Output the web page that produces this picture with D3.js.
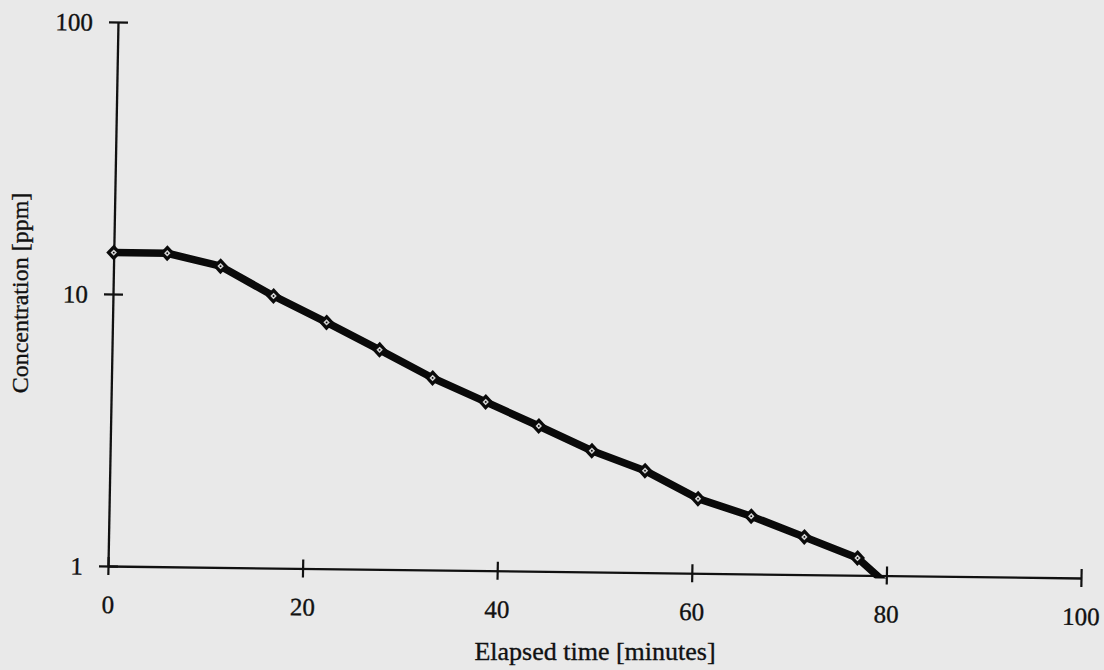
<!DOCTYPE html>
<html>
<head>
<meta charset="utf-8">
<script src="https://cdn.jsdelivr.net/npm/d3@7/dist/d3.min.js"></script>
<style>
  body { margin: 0; background: #e9e9e9; }
  text { font-family: 'Liberation Serif', 'Times New Roman', serif; fill: #111; stroke: #111; stroke-width: 0.35px; }
</style>
</head>
<body>
<div id="chart"></div>
<script>
// elapsed time [minutes] and concentration [ppm]
const times = [0, 5.5, 11, 16.5, 22, 27.5, 33, 38.5, 44, 49.5, 55, 60.5, 66, 71.5, 77, 82.5];
const concentration = [14.2, 14.2, 12.8, 10.0, 8.04, 6.41, 5.08, 4.17, 3.42, 2.79, 2.37, 1.88, 1.63, 1.375, 1.157, 0.78];
const xTicks = [0, 20, 40, 60, 80, 100];
const yTicks = [1, 10, 100];

const width = 1104, height = 670;
const plotW = 973, plotH = 544;

const svg = d3.select('#chart')
  .append('svg')
  .attr('width', width)
  .attr('height', height)
  .style('background', '#e9e9e9');

// the scanned page is a little skewed, so the plot sits in a slightly tilted frame
const g = svg.append('g')
  .attr('transform', 'matrix(1,0.01233,-0.01838,1,108,566)');

const x = d3.scaleLinear().domain([0, 100]).range([0, plotW]);
const y = d3.scaleLog().domain([1, 100]).range([0, -plotH]);

// x axis, ticks cross the line
const xAxis = g.append('g')
  .call(d3.axisBottom(x).tickValues(xTicks).tickSize(9).tickSizeOuter(0).tickFormat(d3.format('d')));
xAxis.select('.domain').attr('stroke', '#111').attr('stroke-width', 2.3);
xAxis.selectAll('.tick line').attr('y1', -9).attr('stroke', '#111').attr('stroke-width', 2.2);
xAxis.selectAll('.tick text')
  .attr('y', 47).attr('dy', 0)
  .style('font-size', '25px')
  .style('font-family', "'Liberation Serif', serif")
  .attr('fill', '#111');

// y axis (log)
const yAxis = g.append('g')
  .call(d3.axisLeft(y).tickValues(yTicks).tickSize(9).tickSizeOuter(0).tickFormat(d3.format('d')));
yAxis.select('.domain').attr('stroke', '#111').attr('stroke-width', 2.3);
yAxis.selectAll('.tick line').attr('x1', 10).attr('stroke', '#111').attr('stroke-width', 2.2);
yAxis.selectAll('.tick text')
  .attr('x', -25).attr('dy', '0.34em')
  .style('font-size', '25px')
  .style('font-family', "'Liberation Serif', serif")
  .attr('fill', '#111');

// clip the series to the plot area
svg.append('defs').append('clipPath').attr('id', 'plotClip')
  .append('rect').attr('x', -10).attr('y', -plotH - 5).attr('width', plotW + 20).attr('height', plotH + 8);

const data = times.map((t, i) => ({ t: t, c: concentration[i] }));
const series = g.append('g').attr('clip-path', 'url(#plotClip)');

const line = d3.line().x(d => x(d.t)).y(d => y(d.c));
series.append('path')
  .datum(data)
  .attr('d', line)
  .attr('fill', 'none')
  .attr('stroke', '#0a0a0a')
  .attr('stroke-width', 7.5)
  .attr('stroke-linejoin', 'round');

const marks = series.selectAll('g.mark')
  .data(data)
  .enter().append('g')
  .attr('class', 'mark')
  .attr('transform', d => `translate(${x(d.t)},${y(d.c)})`);
marks.append('path').attr('d', 'M0,-8L7.5,0L0,8L-7.5,0Z').attr('fill', '#0a0a0a');
marks.append('path').attr('d', 'M0,-3.2L3.2,0L0,3.2L-3.2,0Z').attr('fill', '#d4d4d4');
marks.append('circle').attr('r', 0.9).attr('fill', '#0a0a0a');

// axis titles
svg.append('text')
  .attr('x', 595).attr('y', 660)
  .attr('text-anchor', 'middle')
  .style('font-size', '26px')
  .text('Elapsed time [minutes]');

svg.append('text')
  .attr('transform', 'translate(28,293) rotate(-90)')
  .attr('text-anchor', 'middle')
  .style('font-size', '24px')
  .text('Concentration [ppm]');
</script>
</body>
</html>
